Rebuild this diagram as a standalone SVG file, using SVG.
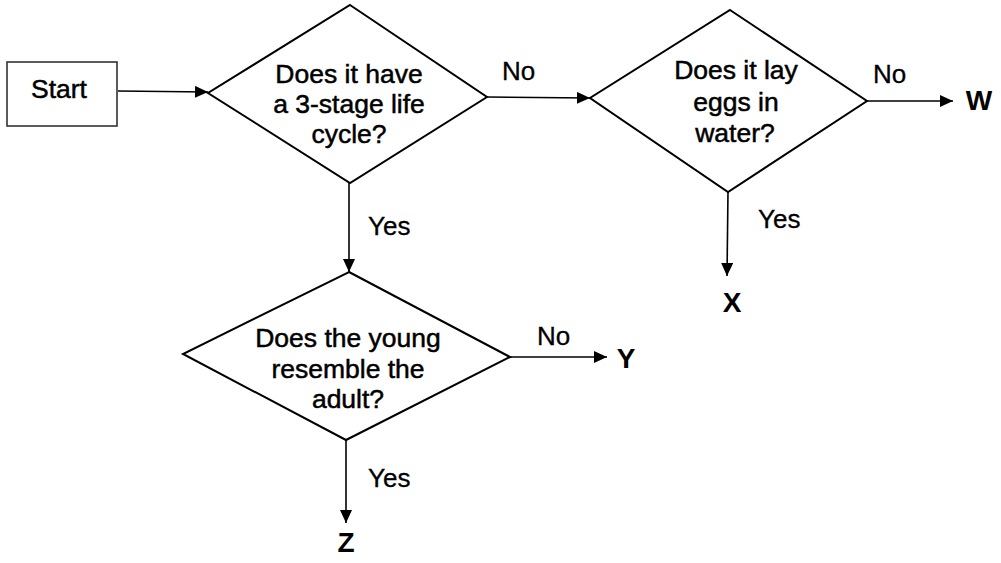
<svg xmlns="http://www.w3.org/2000/svg" width="1001" height="563" viewBox="0 0 1001 563">
<style>
.shape{fill:#fff;stroke:#000;stroke-width:2;stroke-linejoin:miter}
.box{fill:#fff;stroke:#333;stroke-width:1.6}
.conn{fill:none;stroke:#000;stroke-width:1.6}
.t{font-family:"Liberation Sans",Arial,sans-serif;font-size:26.5px;fill:#000;stroke:#000;stroke-width:0.5;text-anchor:middle}
.lbl{font-family:"Liberation Sans",Arial,sans-serif;font-size:26px;fill:#000;stroke:#000;stroke-width:0.3}
.end{font-family:"Liberation Sans",Arial,sans-serif;font-size:28px;font-weight:bold;fill:#000;text-anchor:middle}
</style>
<defs>
<marker id="ah" markerUnits="userSpaceOnUse" markerWidth="14" markerHeight="12" refX="13" refY="6" orient="auto">
<path d="M0,0 L13,6 L0,12 Z" fill="#000"/>
</marker>
</defs>
<rect width="1001" height="563" fill="#fff"/>
<g id="connectors">
<line class="conn" x1="118" y1="91" x2="208" y2="92" marker-end="url(#ah)"/>
<line class="conn" x1="487" y1="97" x2="590" y2="98" marker-end="url(#ah)"/>
<line class="conn" x1="867" y1="101" x2="953" y2="101" marker-end="url(#ah)"/>
<line class="conn" x1="349" y1="183" x2="349" y2="272" marker-end="url(#ah)"/>
<line class="conn" x1="728" y1="192" x2="727" y2="276" marker-end="url(#ah)"/>
<line class="conn" x1="510" y1="357" x2="607" y2="357" marker-end="url(#ah)"/>
<line class="conn" x1="346" y1="440" x2="346" y2="523" marker-end="url(#ah)"/>
<text class="lbl" x="502" y="80">No</text>
<text class="lbl" x="873" y="83">No</text>
<text class="lbl" x="368" y="235">Yes</text>
<text class="lbl" x="758" y="228">Yes</text>
<text class="lbl" x="537" y="345">No</text>
<text class="lbl" x="368" y="487">Yes</text>
</g>
<g id="start">
<rect class="box" x="7" y="62" width="110" height="64"/>
<text class="t" x="59" y="98">Start</text>
</g>
<g id="q1">
<polygon class="shape" points="350,5 487,97 350,183 208,93"/>
<text class="t" x="349" y="83">Does it have</text>
<text class="t" x="349" y="113">a 3-stage life</text>
<text class="t" x="349" y="143">cycle?</text>
</g>
<g id="q2">
<polygon class="shape" points="730,10 867,101 728,192 590,98"/>
<text class="t" x="736" y="79">Does it lay</text>
<text class="t" x="736" y="111">eggs in</text>
<text class="t" x="735" y="142">water?</text>
</g>
<g id="q3">
<polygon class="shape" points="349,272 510,357 346,440 183,354"/>
<text class="t" x="348" y="347">Does the young</text>
<text class="t" x="348" y="378">resemble the</text>
<text class="t" x="348" y="408">adult?</text>
</g>
<g id="W"><text class="end" x="979" y="110">W</text></g>
<g id="X"><text class="end" x="732" y="312">X</text></g>
<g id="Y"><text class="end" x="626" y="368">Y</text></g>
<g id="Z"><text class="end" x="346" y="552">Z</text></g>
</svg>
